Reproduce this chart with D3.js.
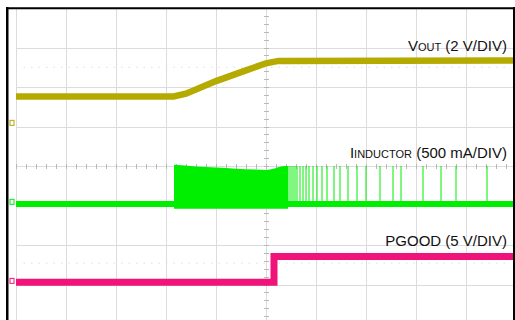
<!DOCTYPE html>
<html>
<head>
<meta charset="utf-8">
<script src="https://cdn.jsdelivr.net/npm/d3@7"></script>
<style>
  html, body { margin: 0; padding: 0; background: #fff; }
  svg { display: block; font-family: "Liberation Sans", Arial, sans-serif; }
</style>
</head>
<body>
<svg id="chart" width="515" height="320"></svg>
<script>
// ---- data (time in divisions, amplitude in divisions) ----
const xDivisions = d3.range(0, 11);          // vertical graticule
const yDivisions = d3.range(-4, 5);          // horizontal graticule
const voutTrace = [[0,1.76],[3.15,1.76],[3.4,1.83],[4.0,2.15],[4.6,2.42],[5.0,2.6],[5.25,2.66],[10,2.67]];
const inductorBaseline = [[0,-0.96],[10,-0.96]];
const inductorBurstTop = [[3.16,0.03],[3.6,-0.01],[4.0,-0.04],[4.4,-0.07],[4.8,-0.09],[5.0,-0.1],[5.15,-0.07],[5.3,-0.01],[5.44,0.0]];
const inductorBurstBottom = -1.08;
const inductorSpikeTop = 0.0;
const inductorSpikes = [5.46,5.5,5.54,5.58,5.62,5.68,5.74,5.8,5.86,5.94,6.02,6.12,6.22,6.36,6.48,6.64,6.82,7.0,7.28,7.54,7.7,8.14,8.5,8.8,9.42];
const pgoodTrace = [[0,-2.94],[5.16,-2.94],[5.16,-2.29],[10,-2.29]];
const labels = [
  {main: "V", sub: "OUT", rest: " (2 V/DIV)", level: 2.91},
  {main: "I", sub: "INDUCTOR", rest: " (500 mA/DIV)", level: 0.2},
  {main: "", sub: "", rest: "PGOOD (5 V/DIV)", level: -2.03}
];
const colors = {vout: "#b4aa00", ind: "#00ee00", pgood: "#f0137a"};

// ---- layout ----
const svg = d3.select("#chart");
const x = d3.scaleLinear().domain([0, 10]).range([16, 516]);
const y = d3.scaleLinear().domain([-4, 4]).range([324, 8]);

// graticule
const grid = svg.append("g");
grid.selectAll("line.v").data(xDivisions).join("line")
  .attr("x1", d => x(d) + 0.5).attr("x2", d => x(d) + 0.5)
  .attr("y1", y(4)).attr("y2", 320)
  .attr("stroke", "#dcdcdc").attr("stroke-width", 1);
grid.selectAll("line.h").data(yDivisions.filter(d => d > -4 && d < 4)).join("line")
  .attr("x1", x(0)).attr("x2", 514)
  .attr("y1", d => Math.round(y(d)) + 0.5).attr("y2", d => Math.round(y(d)) + 0.5)
  .attr("stroke", "#dcdcdc").attr("stroke-width", 1);

// center axes minor ticks
const minorX = d3.range(0, 10.01, 0.2);
const minorY = d3.range(-4, 4.01, 0.2);
grid.selectAll("line.tx").data(minorX).join("line")
  .attr("x1", d => x(d) + 0.5).attr("x2", d => x(d) + 0.5)
  .attr("y1", y(0) - 2).attr("y2", y(0) + 3)
  .attr("stroke", "#b8b8b8");
grid.selectAll("line.ty").data(minorY).join("line")
  .attr("x1", x(5) - 2).attr("x2", x(5) + 3)
  .attr("y1", d => Math.round(y(d)) + 0.5).attr("y2", d => Math.round(y(d)) + 0.5)
  .attr("stroke", "#b8b8b8");

// faint dotted ghost lines
[2.5, -2.46].forEach(v => {
  svg.append("line").attr("x1", x(0.15)).attr("x2", x(9.9))
    .attr("y1", y(v)).attr("y2", y(v))
    .attr("stroke", "#e0e0e0").attr("stroke-dasharray", "1.5,6");
});

const line = d3.line().x(d => x(d[0])).y(d => y(d[1]));

// inductor current
const area = d3.area().curve(d3.curveMonotoneX).x(d => x(d[0])).y0(y(inductorBurstBottom)).y1(d => y(d[1]));
svg.append("path").datum(inductorBurstTop).attr("d", area).attr("fill", colors.ind);
svg.selectAll("line.sp").data(inductorSpikes).join("line")
  .attr("x1", d => x(d)).attr("x2", d => x(d))
  .attr("y1", y(inductorSpikeTop)).attr("y2", y(-0.96))
  .attr("stroke", colors.ind).attr("stroke-width", 1);
svg.append("path").datum(inductorBaseline).attr("d", line)
  .attr("fill", "none").attr("stroke", colors.ind).attr("stroke-width", 6);

// Vout
svg.append("path").datum(voutTrace).attr("d", line)
  .attr("fill", "none").attr("stroke", colors.vout).attr("stroke-width", 6.5);

// PGOOD
svg.append("path").datum(pgoodTrace).attr("d", line)
  .attr("fill", "none").attr("stroke", colors.pgood).attr("stroke-width", 7);

// channel markers
[[1.08, colors.vout], [-0.92, colors.ind], [-2.92, colors.pgood]].forEach(([v, c]) => {
  svg.append("rect").attr("x", 10).attr("y", y(v) - 3).attr("width", 4).attr("height", 5)
    .attr("fill", "none").attr("stroke", c).attr("stroke-width", 1);
});

// labels
labels.forEach(l => {
  const t = svg.append("text").attr("x", 507).attr("y", y(l.level))
    .attr("text-anchor", "end").attr("font-size", 15).attr("fill", "#111");
  if (l.main) t.append("tspan").text(l.main);
  if (l.sub) t.append("tspan").attr("font-size", 11).text(l.sub);
  t.append("tspan").text(l.rest);
});

// frame
svg.append("line").attr("x1", 7.25).attr("x2", 7.25).attr("y1", 7).attr("y2", 320)
  .attr("stroke", "#000").attr("stroke-width", 2.5);
svg.append("line").attr("x1", 6).attr("x2", 515).attr("y1", 8.3).attr("y2", 8.3)
  .attr("stroke", "#000").attr("stroke-width", 2);
svg.append("line").attr("x1", 514).attr("x2", 514).attr("y1", 7).attr("y2", 320)
  .attr("stroke", "#000").attr("stroke-width", 2);
</script>
</body>
</html>
